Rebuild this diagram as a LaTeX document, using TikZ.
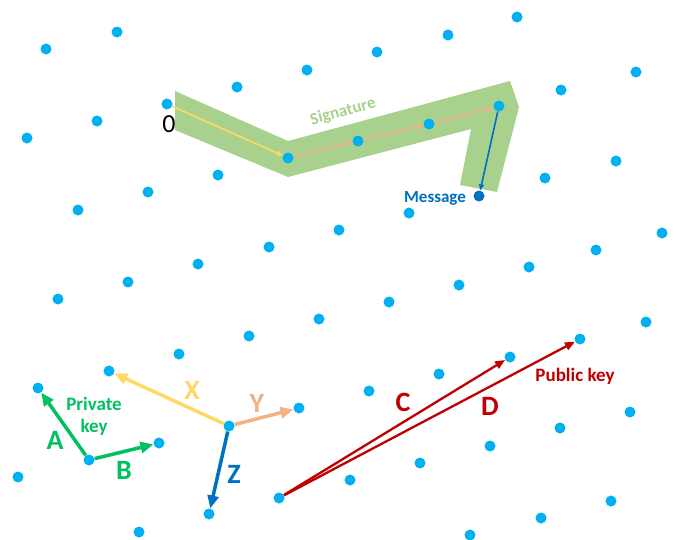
\documentclass[tikz,border=0pt]{standalone}
\usepackage{fontspec}
\setmainfont{Carlito}
\usetikzlibrary{arrows.meta}
\definecolor{ltdot}{HTML}{00B0F0}
\definecolor{ltblue}{HTML}{0070C0}
\definecolor{ltband}{HTML}{A9D18E}
\definecolor{ltyellow}{HTML}{FFD966}
\definecolor{ltorange}{HTML}{F4B183}
\definecolor{ltgreen}{HTML}{00C060}
\definecolor{ltred}{HTML}{C00000}

\begin{document}
\begin{tikzpicture}[
  x=1pt,y=-1pt,
  dot/.style={circle,fill=ltdot,inner sep=0pt,minimum size=11pt},
  letter/.style={font=\fontsize{28}{30}\selectfont\bfseries},
  tag/.style={font=\fontsize{19}{22}\selectfont\bfseries,align=center},
  vec/.style={line width=3.5pt,-{Triangle[length=13pt,width=11pt]}},
  keyvec/.style={line width=2.3pt,-{Triangle[length=10pt,width=8pt]}},
  sigline/.style={line width=1.6pt,-{Triangle[length=6pt,width=5pt]}}
]
\useasboundingbox (0,0) rectangle (676,539);

% signature band
\fill[ltband] (175,91) -- (288,141) -- (510,81) -- (519,107) -- (497,192)
  -- (460,185) -- (471,129) -- (288,177) -- (175,130) -- cycle;

% lattice points
\foreach \n/\px/\py in {
  p1/117/32, p2/46/49, p3/517/17, p4/448/35, p5/377/52, p6/307/70, p7/237/87,
  o/167/104, p9/97/121, p10/27/138,
  p11/636/72, p12/561/90, s4/499/106, s3/429/124, s2/358/141, s1/288/158,
  p17/218/175, p18/148/192, p19/78/210,
  p20/616/161, p21/545/178, p23/409/213, p24/339/230, p25/269/247,
  p26/198/264, p27/128/282, p28/58/299,
  p29/662/233, p30/596/250, p31/529/267, p32/459/285, p33/389/302,
  p34/319/319, p35/249/336, p36/179/354, xend/109/371, aend/38/388,
  p39/646/322, dend/580/339, cend/510/357, p42/439/374, p43/369/391,
  yend/299/408, xo/229/426, bend/159/443, ko/89/460, p48/18/477,
  p49/630/412, p50/560/428, p51/490/446, p52/420/463, p53/350/480,
  co/279/498, zend/209/514, p56/139/532, p57/611/501, p58/541/518, p59/470/535}
  \node[dot] (\n) at (\px,\py) {};
\node[dot,fill=ltblue] (msg) at (479,196) {};

% signature path
\draw[sigline,ltyellow] (o) -- (s1);
\draw[sigline,ltorange] (s1) -- (s2);
\draw[sigline,ltorange] (s2) -- (s3);
\draw[sigline,ltorange] (s3) -- (s4);
\draw[sigline,ltblue] (s4) -- (msg);

% private key
\draw[vec,ltgreen] (ko) -- (aend);
\draw[vec,ltgreen] (ko) -- (bend);

% other basis
\draw[vec,ltyellow] (xo) -- (xend);
\draw[vec,ltorange] (xo) -- (yend);
\draw[vec,ltblue] (xo) -- (zend);

% public key
\draw[keyvec,ltred] (co) -- (cend);
\draw[keyvec,ltred] (co) -- (dend);

% labels
\node[font=\fontsize{26}{28}\selectfont] (zero) at (169,124) {0};
\node[font=\fontsize{17}{18}\selectfont\bfseries,text=ltband,rotate=15] (sig) at (343,112) {Signature};
\node[font=\fontsize{17}{18}\selectfont\bfseries,text=ltblue] (msgl) at (435,198) {Message};
\node[tag,text=ltgreen] (priv) at (94,416) {Private\\key};
\node[tag,text=ltred] (pub) at (575,376) {Public key};
\node[letter,text=ltgreen] (la) at (55,440) {A};
\node[letter,text=ltgreen] (lb) at (124,470) {B};
\node[letter,text=ltyellow] (lx) at (192,390) {X};
\node[letter,text=ltorange] (ly) at (257,403) {Y};
\node[letter,text=ltblue] (lz) at (234,474) {Z};
\node[letter,text=ltred] (lc) at (403,402) {C};
\node[letter,text=ltred] (ld) at (490,406) {D};
\end{tikzpicture}
\end{document}
